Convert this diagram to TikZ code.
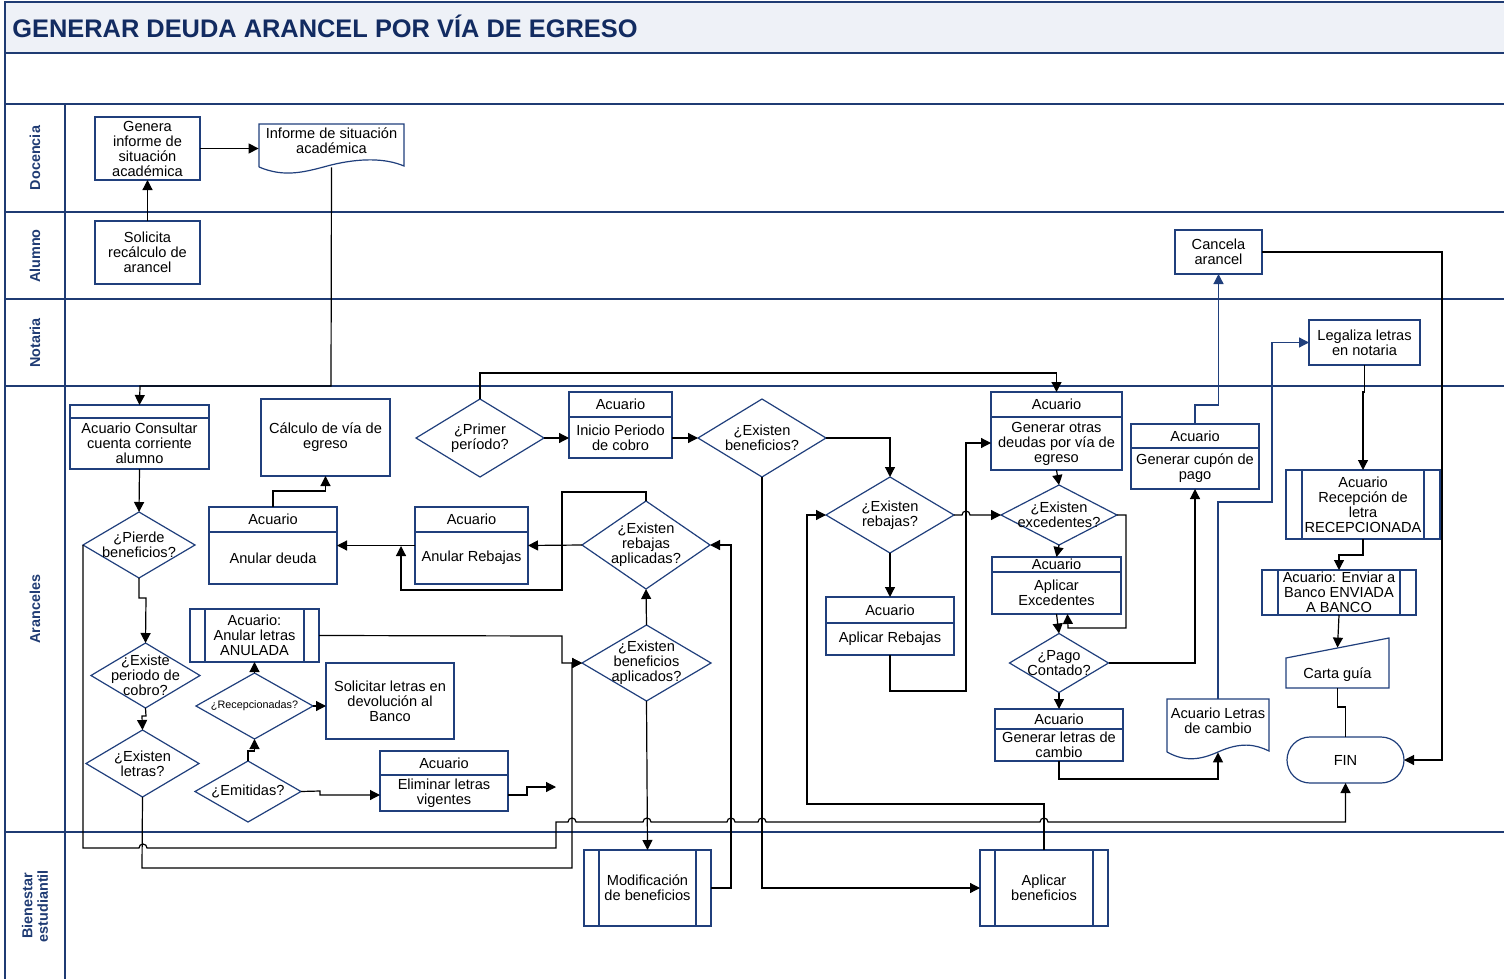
\documentclass[tikz,border=0pt]{standalone}
\usepackage{fontspec}
\setmainfont{Liberation Sans}
\usepackage{tikz}
\usetikzlibrary{shapes.geometric, arrows.meta, calc}
\definecolor{Lane_Navy}{HTML}{1F3B73}
\definecolor{Box_Navy}{HTML}{203F7C}
\definecolor{Title_Navy}{HTML}{122B61}
\definecolor{Title_Fill}{HTML}{EEF1F7}

\newcommand{\boxfont}{\fontsize{7.3}{7.5}\selectfont}
\newcommand{\tinyboxfont}{\fontsize{5.4}{6}\selectfont}
\newcommand{\lanefont}{\fontsize{7.2}{7.8}\selectfont\bfseries}
\newcommand{\titlefont}{\fontsize{12.7}{14}\selectfont\bfseries}

\tikzset{
    boxline/.style={draw=Box_Navy, line width=0.6pt},
    procbox/.style={boxline, fill=white, rectangle, inner sep=0pt, outer sep=0pt},
    decbox/.style={boxline, fill=white, diamond, inner sep=0pt, outer sep=0pt},
    txt/.style={inner sep=0pt, align=center, font=\boxfont},
    wh/.style 2 args={minimum width=#1*0.5pt, minimum height=#2*0.5pt},
    flow/.style={draw=black, line width=0.6pt, -{Triangle[length=5pt,width=5pt]}},
    link/.style={draw=black, line width=0.6pt},
    flownavy/.style={flow, draw=Box_Navy, -{Triangle[length=5pt,width=5pt,fill=Box_Navy]}},
    laneline/.style={draw=Lane_Navy, line width=0.8pt},
    lanelbl/.style={rotate=90, font=\lanefont, text=Lane_Navy, align=center, inner sep=0pt}
}

% box with "Acuario" header: name, x, y, w, h, header h, header, body
\newcommand{\acubox}[8]{%
  \node[procbox, wh={#4}{#5}] (#1) at (#2,#3) {};
  \draw[boxline] ($(#1.north west)+(0,#6)$) -- ($(#1.north east)+(0,#6)$);
  \node[txt] (#1-h) at ($(#1.north)+(0,#6/2)$) {#7};
  \node[txt] (#1-b) at ($(#1.center)+(0,#6/2)$) {#8};
}
% predefined process: name, x, y, w, h, inset, text
\newcommand{\predef}[7]{%
  \node[procbox, txt, wh={#4}{#5}] (#1) at (#2,#3) {#7};
  \draw[boxline] ($(#1.north west)+(#6,0)$) -- ($(#1.south west)+(#6,0)$);
  \draw[boxline] ($(#1.north east)-(#6,0)$) -- ($(#1.south east)-(#6,0)$);
}
% decision: name, x, y, w, h, text
\newcommand{\decision}[6]{%
  \node[decbox, wh={#4}{#5}] (#1) at (#2,#3) {};
  \node[txt] (#1-t) at (#1) {#6};
}

\begin{document}
\begin{tikzpicture}[x=0.5pt, y=-0.5pt]
    \useasboundingbox (0,0) rectangle (1504,979);

    % Frame and lanes
    \fill[Title_Fill] (5,2) rectangle (1504,53);
    \draw[laneline] (5,979) -- (5,2) -- (1504,2);
    \foreach \yl in {53,104,212,299,386,832} {
        \draw[laneline] (5,\yl) -- (1504,\yl);
    }
    \draw[laneline] (65,104) -- (65,979);
    \node[anchor=west, font=\titlefont, text=Title_Navy, inner sep=0pt] (title) at (12,26) {GENERAR DEUDA ARANCEL POR VÍA DE EGRESO};

    \foreach \lbl/\yc in {Docencia/158, Alumno/256, Notaria/343, Aranceles/609} {
        \node[lanelbl] (lane-\lbl) at (35,\yc) {\lbl};
    }
    \node[lanelbl] (lane-Bienestar) at (35,906) {Bienestar\\estudiantil};

    % Docencia / Alumno / Notaria
    \node[procbox, txt, wh={105}{63}] (genInf) at (147.5,148.5) {Genera\\informe de\\situación\\académica};
    \node[procbox, txt, wh={105}{63}] (solic) at (147.5,252.5) {Solicita\\recálculo de\\arancel};
    \node[inner sep=0pt, wh={145}{43}] (infDoc) at (331.5,145.5) {};
    \draw[boxline, fill=white] (259,167) -- (259,124) -- (404,124) -- (404,166)
        .. controls (385,158) and (360,158) .. (331,165)
        .. controls (305,172) and (285,178) .. (259,167);
    \node[txt] (infDoc-t) at (331.5,141) {Informe de situación\\académica};
    \node[procbox, txt, wh={87}{44}] (cancela) at (1218.5,252) {Cancela\\arancel};
    \node[procbox, txt, wh={111}{45}] (legal) at (1364.5,342.5) {Legaliza letras\\en notaria};

    % Aranceles
    \acubox{consult}{139.5}{437}{139}{64}{13}{}{Acuario Consultar\\cuenta corriente\\alumno}
    \node[procbox, txt, wh={129}{77}] (calc) at (325.5,437.5) {Cálculo de vía de\\egreso};
    \decision{primer}{480}{438}{128}{78}{¿Primer\\período?}
    \acubox{inicio}{620.5}{425}{103}{66}{25}{Acuario}{Inicio Periodo\\de cobro}
    \decision{extBen}{762}{438}{128}{78}{¿Existen\\beneficios?}
    \acubox{genOtras}{1056.5}{431}{131}{78}{25}{Acuario}{Generar otras\\deudas por vía de\\egreso}
    \acubox{cupon}{1195}{456.5}{128}{65}{24}{Acuario}{Generar cupón de\\pago}
    \predef{recep}{1363}{504.5}{154}{69}{16}{Acuario\\Recepción de\\letra\\RECEPCIONADA}
    \predef{enviar}{1339}{592.5}{154}{45}{16}{Acuario: Enviar a\\Banco ENVIADA\\A BANCO}
    \node[inner sep=0pt, wh={103}{50}] (carta) at (1337.5,663) {};
    \draw[boxline, fill=white] (1286,658) -- (1389,638) -- (1389,688) -- (1286,688) -- cycle;
    \node[txt] (carta-t) at (1337.5,675) {Carta guía};
    \node[procbox, txt, wh={117}{46}, rounded corners=11.5pt] (fin) at (1345.5,760) {FIN};
    \node[inner sep=0pt, wh={102}{53}] (docLetras) at (1218,725.5) {};
    \draw[boxline, fill=white] (1167,752) -- (1167,699) -- (1269,699) -- (1269,751)
        .. controls (1255,744) and (1240,742) .. (1218,752)
        .. controls (1200,760) and (1185,762) .. (1167,752);
    \node[txt] (docLetras-t) at (1218,721) {Acuario Letras\\de cambio};

    \decision{extReb}{890}{515}{128}{76}{¿Existen\\rebajas?}
    \decision{extExc}{1059}{515}{116}{60}{¿Existen\\excedentes?}
    \acubox{aplExc}{1056.5}{585.5}{129}{57}{15}{Acuario}{Aplicar\\Excedentes}
    \acubox{aplReb}{890}{626}{128}{58}{26}{Acuario}{Aplicar Rebajas}
    \decision{pago}{1059}{663}{99}{59}{¿Pago\\Contado?}
    \acubox{genLetras}{1059}{735}{128}{52}{20}{Acuario}{Generar letras de\\cambio}

    \decision{rebApl}{646}{545}{128}{88}{¿Existen\\rebajas\\aplicadas?}
    \decision{benApl}{646.5}{663}{129}{76}{¿Existen\\beneficios\\aplicados?}
    \acubox{anReb}{471.5}{545.5}{113}{77}{25}{Acuario}{Anular Rebajas}
    \acubox{anDeuda}{273}{545.5}{128}{77}{25}{Acuario}{Anular deuda}
    \decision{pierde}{139}{545}{112}{66}{¿Pierde\\beneficios?}
    \decision{existPer}{145.5}{675.5}{109}{65}{¿Existe\\periodo de\\cobro?}
    \decision{existLet}{142.5}{763.5}{113}{67}{¿Existen\\letras?}
    \predef{anLetras}{254.5}{635.5}{129}{53}{15}{Acuario:\\Anular letras\\ANULADA}
    \node[decbox, wh={117}{66}] (recepc) at (254.5,706) {};
    \node[txt, font=\tinyboxfont] (recepc-t) at (recepc) {¿Recepcionadas?};
    \node[procbox, txt, wh={128}{76}] (solLet) at (390,701) {Solicitar letras en\\devolución al\\Banco};
    \decision{emit}{248}{791.5}{106}{61}{¿Emitidas?}
    \acubox{elim}{444}{781}{128}{60}{24}{Acuario}{Eliminar letras\\vigentes}

    % Bienestar estudiantil
    \predef{modif}{647.5}{888}{127}{76}{15}{Modificación\\de beneficios}
    \predef{aplBen}{1044}{888}{128}{76}{15}{Aplicar\\beneficios}

    \coordinate (mergeA) at (401,546);
    \coordinate (elimEnd) at (556,787);

    % Connectors
    \draw[flow] (solic) -- (genInf);
    \draw[flow] (genInf) -- (infDoc.west |- genInf);
    \draw[flow] (infDoc.south) -- (331,386) -- (140,386) -- (consult.north);
    \draw[flow] (consult.south) -- (pierde.north);
    \draw[flow] (pierde.south) -- (139,598) -- (146,598) -- (existPer.north);
    \draw[flow] (existPer.south) -- (146,716) -- (142,716) -- (existLet.north);
    \draw[flow] (pierde.west) -- (83,848) -- (139,848) arc[start angle=180, end angle=0, radius=2pt]
        -- (556,848) -- (556,822) -- (568,822) arc[start angle=180, end angle=0, radius=2pt]
        -- (643,822) arc[start angle=180, end angle=0, radius=2pt]
        -- (727,822) arc[start angle=180, end angle=0, radius=2pt]
        -- (758,822) arc[start angle=180, end angle=0, radius=2pt]
        -- (1040,822) arc[start angle=180, end angle=0, radius=2pt]
        -- (1345.5,822) -- (fin.south);
    \draw[flow] (existLet.south) -- (142,868) -- (572,868) -- (572,663) -- (benApl.west);
    \draw[flow] (anLetras.east) -- (562,636) -- (562,663) -- (benApl.west);
    \draw[flow] (recepc.north) -- (anLetras.south);
    \draw[flow] (recepc.east) -- (solLet.west |- recepc.east);
    \draw[flow] (emit.north) -- (248,751) -- (254.5,751) -- (recepc.south);
    \draw[flow] (emit.east) -- (320,791) -- (320,795) -- ($(elim.west)+(0,14)$);
    \draw[flow] ($(elim.east)+(0,14)$) -- (527,795) -- (527,787) -- (elimEnd);
    \draw[flow] (benApl.north) -- (rebApl.south);
    \draw[flow] (benApl.south) -- (modif.north);
    \draw[flow] (modif.east) -- (731,888) -- (731,545) -- (rebApl.east);
    \draw[flow] (rebApl.west) -- (anReb.east);
    \draw[flow] (rebApl.north) -- (646,492) -- (562,492) -- (562,590) -- (401,590) -- (mergeA);
    \draw[flow] (anReb.west) -- (anDeuda.east);
    \draw[flow] (anDeuda.north) -- (273,491) -- (325.5,491) -- (calc.south);
    \draw[flow] (primer.east) -- (inicio.west |- primer.east);
    \draw[flow] (inicio.east |- extBen.west) -- (extBen.west);
    \draw[flow] (primer.north) -- (480,373) -- (1056.5,373) -- (genOtras.north);
    \draw[flow] (extBen.east) -| (extReb.north);
    \draw[flow] (extBen.south) |- (aplBen.west);
    \draw[flow] (extReb.south) -- (aplReb.north);
    \draw[flow] (aplReb.south) -- (890,691) -- (966,691) -- (966,443) -- ($(genOtras.west)+(0,12)$);
    \draw[flow] (extReb.east) -- (962,515) arc[start angle=180, end angle=0, radius=2pt] -- (extExc.west);
    \draw[flow] (aplBen.north) -- (1044,804) -- (807,804) -- (807,515) -- (extReb.west);
    \draw[flow] (genOtras.south) -- (extExc.north);
    \draw[flow] (extExc.south) -- (aplExc.north);
    \draw[flow] (aplExc.south) -- (pago.north);
    \draw[flow] (extExc.east) -- (1126,515) -- (1126,628) -- (1068,628) -- ($(aplExc.south)+(11,0)$);
    \draw[flow] (pago.east) -| (cupon.south);
    \draw[flow] (pago.south) -- (genLetras.north);
    \draw[flow] (genLetras.south) -- (1059,779) -- (1218,779) -- (docLetras.south);
    \draw[flownavy] (docLetras.north) -- (1218,502) -- (1272,502) -- (1272,342.5) -- (legal.west);
    \draw[flownavy] (cupon.north) -- (1195,405) -- (1218.5,405) -- (cancela.south);
    \draw[flow] (cancela.east) -- (1442,252) -- (1442,760) -- (fin.east);
    \draw[flow] (legal.south) -- (1364.5,392) -- (1363,392) -- (recep.north);
    \draw[flow] (recep.south) -- (1363,555) -- (1339,555) -- (enviar.north);
    \draw[flow] (enviar.south) -- ($(carta.north)+(0,10)$);
    \draw[link] (carta.south) -- (1337.5,707) -- (1345.5,707) -- (fin.north);
\end{tikzpicture}
\end{document}
